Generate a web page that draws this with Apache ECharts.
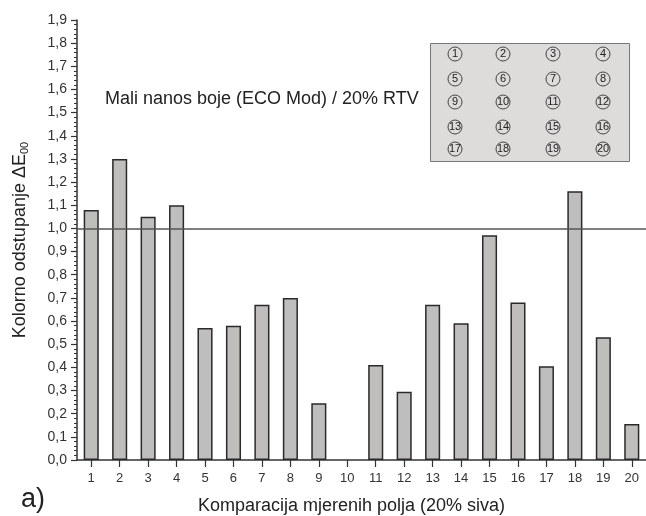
<!DOCTYPE html>
<html>
<head>
<meta charset="utf-8">
<script src="https://cdn.jsdelivr.net/npm/echarts@6/dist/echarts.min.js"></script>
<style>html,body{margin:0;padding:0;background:#fff;}#c{width:646px;height:516px;}</style>
</head>
<body>
<div id="c"></div>
<script>
const categories = ['1','2','3','4','5','6','7','8','9','10','11','12','13','14','15','16','17','18','19','20'];
const deltaE = [1.08, 1.30, 1.05, 1.10, 0.57, 0.58, 0.67, 0.70, 0.245, 0, 0.41, 0.295, 0.67, 0.59, 0.97, 0.68, 0.405, 1.16, 0.53, 0.155];
const threshold = 1.0;
const yTicks = {min: 0, max: 1.9, interval: 0.1};
const fieldNumbers = [1,2,3,4,5,6,7,8,9,10,11,12,13,14,15,16,17,18,19,20];

const chart = echarts.init(document.getElementById('c'));
const font = 'Liberation Sans, Arial, sans-serif';

const graphics = [
  {type:'rect', left:430, top:43, shape:{width:199, height:118}, style:{fill:'#dddcdb', stroke:'#777', lineWidth:1}, z:10}
];
const colX = [455, 503, 553, 603];
const rowY = [54, 79, 102, 127, 149];
fieldNumbers.forEach((n, i) => {
  const cx = colX[i % 4], cy = rowY[Math.floor(i / 4)];
  graphics.push({type:'circle', shape:{cx:cx, cy:cy, r:7}, style:{fill:'none', stroke:'#444', lineWidth:1}, z:11});
  graphics.push({type:'text', x:cx, y:cy, style:{text:String(n), fill:'#222', font:'11px ' + font, align:'center', verticalAlign:'middle'}, z:12});
});
graphics.push({type:'text', left:105, top:90, style:{text:'Mali nanos boje (ECO Mod) / 20% RTV', fill:'#222', font:'18px ' + font}, z:12});
graphics.push({type:'text', left:21, top:486, style:{text:'a)', fill:'#222', font:'27px ' + font}, z:12});

const barData = deltaE.map(v => v === 0 ? {value: v, itemStyle: {borderWidth: 0}} : v);

chart.setOption({
  animation: false,
  backgroundColor: '#fff',
  grid: {left: 77, right: 0, top: 20, bottom: 56, containLabel: false, outerBoundsMode: 'none'},
  xAxis: {
    type: 'category',
    data: categories,
    name: 'Komparacija mjerenih polja (20% siva)',
    nameLocation: 'middle',
    nameGap: 37,
    nameTextStyle: {fontSize: 18, color: '#222', fontFamily: font, padding: [0, 20, 0, 0]},
    axisLine: {lineStyle: {color: '#333', width: 1.5}},
    axisTick: {show: true, alignWithLabel: true, length: 7, lineStyle: {color: '#333', width: 1.2}},
    axisLabel: {fontSize: 13, color: '#333', fontFamily: font, margin: 12},
    splitLine: {show: false}
  },
  yAxis: {
    type: 'value',
    min: yTicks.min, max: yTicks.max, interval: yTicks.interval,
    name: '{a|Kolorno odstupanje ΔE}{s|00}',
    nameLocation: 'middle',
    nameRotate: 90,
    nameGap: 47,
    nameTextStyle: {
      color: '#222', fontFamily: font, fontSize: 18,
      rich: {
        a: {fontSize: 18, color: '#222', fontFamily: font},
        s: {fontSize: 11, color: '#222', fontFamily: font, verticalAlign: 'bottom', padding: [9, 0, 0, 0]}
      }
    },
    axisLine: {show: true, lineStyle: {color: '#333', width: 1.5}},
    axisTick: {show: true, length: 6, lineStyle: {color: '#333', width: 1.2}},
    minorTick: {show: true, splitNumber: 5, length: 3, lineStyle: {color: '#333', width: 1}},
    axisLabel: {fontSize: 14, color: '#333', fontFamily: font, margin: 10,
      formatter: v => v.toFixed(1).replace('.', ',')},
    splitLine: {show: false}
  },
  series: [{
    type: 'bar',
    data: barData,
    barWidth: '53%',
    itemStyle: {color: '#c0bebc', borderColor: '#2a2a2a', borderWidth: 1.5},
    markLine: {
      silent: true,
      symbol: 'none',
      label: {show: false},
      lineStyle: {color: '#555', width: 1.5, type: 'solid'},
      data: [{yAxis: threshold}]
    }
  }],
  graphic: graphics
});
</script>
</body>
</html>
